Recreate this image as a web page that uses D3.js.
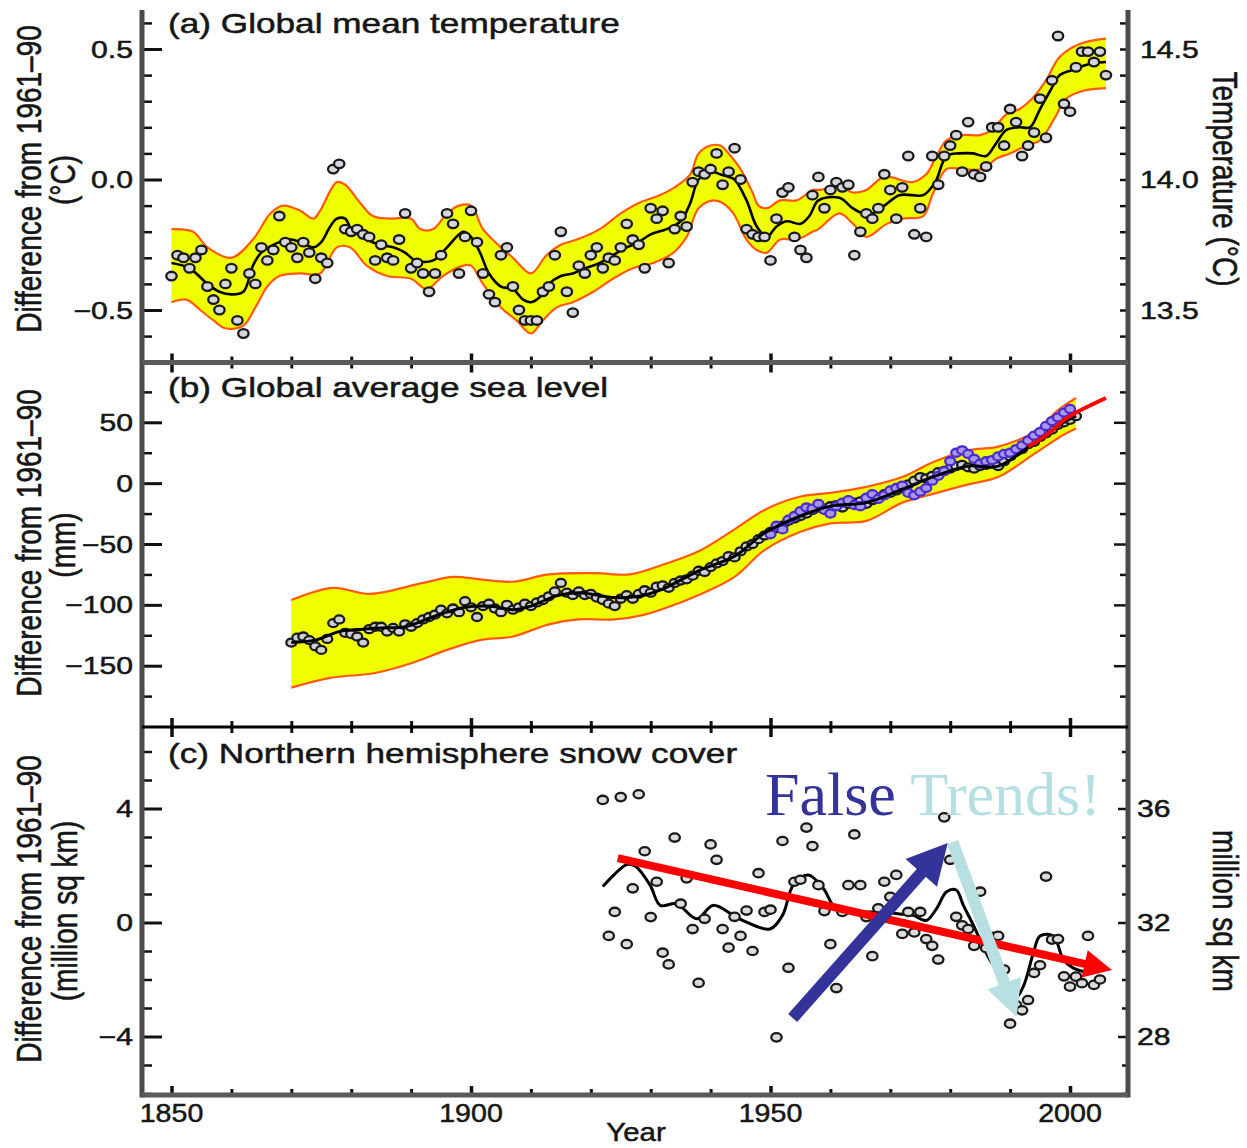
<!DOCTYPE html>
<html>
<head>
<meta charset="utf-8">
<style>
  body { margin: 0; background: #fff; }
  svg { display: block; }
  text { font-family: "Liberation Sans", Arial, sans-serif; fill: #161616; stroke: #161616; stroke-width: 0.5px; }
</style>
</head>
<body>
<div id="chart"></div>
<script src="https://d3js.org/d3.v7.min.js"></script>
<script>
// ---------- (a) global mean temperature, annual anomaly (degC) from 1850 ----------
const tempFirstYear = 1850;
const tempAnom = [
  -0.37, -0.29, -0.30, -0.34, -0.30, -0.27, -0.41, -0.46, -0.50, -0.40,
  -0.34, -0.54, -0.59, -0.36, -0.40, -0.26, -0.31, -0.27, -0.14, -0.24,
  -0.26, -0.30, -0.24, -0.28, -0.38, -0.30, -0.32, 0.04, 0.06, -0.19,
  -0.20, -0.19, -0.21, -0.22, -0.31, -0.25, -0.30, -0.31, -0.23, -0.13,
  -0.34, -0.32, -0.36, -0.43, -0.36, -0.29, -0.13, -0.17, -0.36, -0.22,
  -0.12, -0.24, -0.36, -0.44, -0.47, -0.29, -0.26, -0.41, -0.50, -0.54,
  -0.54, -0.54, -0.43, -0.41, -0.29, -0.20, -0.43, -0.51, -0.33, -0.36,
  -0.29, -0.26, -0.34, -0.30, -0.31, -0.26, -0.17, -0.23, -0.25, -0.34,
  -0.11, -0.15, -0.12, -0.32, -0.19, -0.14, -0.18, -0.01, 0.03, 0.02,
  0.04, 0.10, -0.02, 0.03, 0.12, 0.00, -0.19, -0.21, -0.22, -0.22,
  -0.31, -0.15, -0.05, -0.03, -0.22, -0.27, -0.30, -0.06, 0.01, -0.11,
  -0.04, -0.01, -0.03, -0.02, -0.29, -0.20, -0.13, -0.15, -0.11, 0.02,
  -0.04, -0.15, -0.03, 0.09, -0.21, -0.11, -0.22, 0.09, -0.02, 0.09,
  0.13, 0.17, 0.03, 0.22, 0.02, 0.01, 0.05, 0.20, 0.20, 0.13,
  0.27, 0.22, 0.09, 0.13, 0.18, 0.31, 0.16, 0.38, 0.55, 0.29,
  0.26, 0.43, 0.49, 0.49, 0.45, 0.49, 0.40
];
// smoothed curve [year, value]
const tempSmooth = [
  [1850,-0.32],[1853,-0.34],[1856,-0.40],[1858,-0.43],[1860,-0.44],[1862,-0.43],[1863.6,-0.33],
  [1865,-0.28],[1868,-0.24],[1870,-0.23],[1871.5,-0.24],[1873.7,-0.26],[1875,-0.24],[1876.5,-0.18],
  [1877.6,-0.15],[1879,-0.15],[1880,-0.19],[1882.6,-0.23],[1884.8,-0.25],[1887,-0.26],[1889,-0.28],
  [1890.7,-0.31],[1893.7,-0.31],[1896,-0.26],[1898.7,-0.20],[1900,-0.22],[1901.5,-0.28],[1903,-0.36],
  [1905,-0.41],[1907,-0.42],[1908.7,-0.46],[1910,-0.47],[1911.5,-0.45],[1913,-0.40],[1915,-0.37],
  [1917,-0.36],[1919,-0.34],[1921.5,-0.32],[1923.7,-0.29],[1926,-0.26],[1928,-0.24],[1930,-0.21],
  [1932.7,-0.19],[1935,-0.16],[1936.6,-0.09],[1938,0.0],[1940,0.03],[1941.6,0.02],[1943,0.01],
  [1944,0.0],[1946,-0.08],[1947.7,-0.18],[1949.4,-0.22],[1951,-0.18],[1952.7,-0.16],[1955,-0.17],
  [1956.5,-0.14],[1958,-0.08],[1961.5,-0.07],[1963.7,-0.11],[1965.4,-0.13],[1967,-0.13],[1969,-0.10],
  [1971.5,-0.06],[1973.7,-0.06],[1975.5,-0.06],[1977.5,-0.01],[1979.4,0.09],[1981.6,0.10],[1983.8,0.10],
  [1986,0.09],[1987.7,0.14],[1989.4,0.19],[1991.6,0.20],[1993.3,0.20],[1995,0.27],[1996.7,0.34],
  [1998.3,0.40],[2000.5,0.42],[2002.8,0.44],[2006,0.45]
];
const tempUpper = [
  [1850,-0.19],[1853.6,-0.20],[1856,-0.26],[1860,-0.30],[1863.6,-0.23],[1866.5,-0.13],[1868.6,-0.10],
  [1871.5,-0.12],[1873.7,-0.15],[1874.8,-0.12],[1877.6,-0.01],[1879,-0.02],[1881.5,-0.09],[1883.6,-0.14],
  [1886.5,-0.15],[1890,-0.15],[1891.5,-0.19],[1893.7,-0.19],[1896,-0.13],[1898,-0.10],[1900,-0.10],
  [1902,-0.19],[1905,-0.26],[1907,-0.30],[1910,-0.36],[1912.6,-0.29],[1915,-0.25],[1917.7,-0.23],
  [1921.5,-0.19],[1925,-0.13],[1928,-0.09],[1931.5,-0.06],[1934,-0.03],[1936.6,0.02],[1938,0.10],
  [1940,0.13],[1941.6,0.13],[1943,0.10],[1945,0.04],[1947,-0.05],[1948,-0.10],[1949.4,-0.11],
  [1951.6,-0.08],[1954.4,-0.08],[1957,-0.04],[1958,-0.04],[1961.6,-0.03],[1963.8,-0.05],[1966,-0.04],
  [1969,0.01],[1973.7,-0.01],[1976,0.02],[1977.5,0.08],[1979.4,0.15],[1982,0.17],[1985,0.17],
  [1987,0.19],[1989.4,0.25],[1991.6,0.27],[1993.7,0.31],[1996,0.38],[1998.3,0.47],[2001.7,0.52],[2006,0.54]
];
const tempLower = [
  [1850,-0.47],[1852.5,-0.46],[1854.8,-0.50],[1857,-0.54],[1859,-0.57],[1862,-0.56],[1864,-0.49],
  [1866,-0.41],[1868,-0.37],[1871.5,-0.36],[1874.8,-0.36],[1877.6,-0.26],[1879.8,-0.26],[1882.6,-0.33],
  [1886,-0.37],[1890,-0.38],[1892.6,-0.42],[1895.3,-0.37],[1898.7,-0.33],[1900,-0.33],[1902,-0.40],
  [1905,-0.49],[1907.6,-0.54],[1910,-0.59],[1912,-0.54],[1914.3,-0.49],[1917,-0.47],[1920.4,-0.43],
  [1923.7,-0.38],[1927,-0.34],[1930.4,-0.32],[1933.8,-0.28],[1936,-0.22],[1938,-0.11],[1940.5,-0.08],
  [1942,-0.09],[1943.8,-0.13],[1946,-0.23],[1947.7,-0.27],[1949.4,-0.28],[1951.6,-0.23],[1954.4,-0.23],
  [1957,-0.20],[1958,-0.19],[1961.5,-0.13],[1963.8,-0.17],[1966,-0.22],[1969.4,-0.17],[1972,-0.15],
  [1975.5,-0.14],[1977,-0.06],[1979.4,0.04],[1982,0.04],[1985.5,0.04],[1987.7,0.08],[1990,0.10],
  [1992.8,0.13],[1995,0.15],[1997.3,0.23],[1999.4,0.31],[2002.2,0.34],[2006,0.35]
];
const tempTicks = [-0.5, 0, 0.5];
const tempTickLabels = ["\u22120.5", "0.0", "0.5"];
const tempMinorTicks = [-0.6, -0.4, -0.3, -0.2, -0.1, 0.1, 0.2, 0.3, 0.4, 0.6];
const tempRightTicks = [-0.6, -0.5, -0.4, -0.3, -0.2, -0.1, 0, 0.1, 0.2, 0.3, 0.4, 0.5, 0.6];
const tempRightLabels = ["13.5", "14.0", "14.5"];

// ---------- (b) global average sea level (mm) ----------
const seaFirstYear = 1870;
const seaLevel = [
  -131, -127, -126, -129, -134, -137, -128, -115, -112, -123,
  -124, -126, -131, -120, -118, -118, -122, -119, -122, -116,
  -118, -115, -112, -110, -108, -104, -107, -103, -106, -97,
  -102, -110, -101, -99, -103, -106, -100, -104, -102, -99,
  -101, -98, -96, -93, -89, -82, -90, -92, -89, -92,
  -91, -94, -96, -99, -101, -95, -92, -95, -91, -88,
  -90, -85, -84, -86, -82, -80, -79, -76, -72, -73,
  -69, -66, -64, -60, -61, -56, -52, -50, -46, -43,
  -40, -37, -35, -31, -29, -27, -25, -22, -20, -21,
  -19, -18, -20, -17, -16, -15, -17, -14, -12, -9,
  -8, -6, -4, -1, 2, 5, 4, 6, 9, 10,
  12, 14, 15, 13, 12, 14, 15, 16, 14, 18,
  22, 26, 28, 32, 34, 38, 41, 44, 48, 50,
  52, 55
];
const seaAltFirstYear = 1950;
const seaAlt = [
  -42, -35, -38, -30, -27, -23, -20, -21, -17, -22,
  -25, -19, -16, -14, -18, -19, -12, -9, -13, -10,
  -6, -4, -2, -8, -10, -7, -4, 2, 6, 10,
  18, 25, 27, 24, 20, 16, 18, 19, 22, 24,
  25, 28, 31, 35, 39, 42, 47, 51, 54, 58, 61
];
const seaSmooth = [
  [1870,-131],[1874,-129],[1878,-122],[1882,-120],[1885,-119],[1889,-118],[1893,-111],[1896,-106],
  [1899,-102],[1903,-101],[1907,-104],[1910,-101],[1914,-93],[1918,-90],[1924,-94],[1928,-93],
  [1932,-87],[1938,-72],[1944,-60],[1949,-41],[1955,-27],[1960,-19],[1966,-16],[1972,-5],
  [1977,5],[1983,14],[1988,14],[1994,33],[1999,50],[2001,55]
];
const seaUpper = [
  [1870,-96],[1877,-86],[1883,-91],[1892,-82],[1897,-77],[1901.5,-79],[1907,-81],[1913,-75],
  [1921,-74],[1926.5,-75],[1932,-67],[1938,-56],[1944,-38],[1949,-22],[1955,-11],[1960,-8],
  [1966,-3],[1972,5],[1977,17],[1983,27],[1988,30],[1994,42],[1998,60],[2001,70]
];
const seaLower = [
  [1870,-168],[1876.5,-160],[1884,-156],[1890,-148],[1896,-137],[1901.5,-129],[1907,-126],[1913,-116],
  [1918,-112],[1924,-112],[1929,-108],[1935,-98],[1938,-92],[1944,-77],[1949,-55],[1955,-40],
  [1960,-33],[1966,-31],[1972,-16],[1977,-9],[1983,-1],[1988,5],[1994,24],[1999,40],[2001,45]
];
const seaSatellite = [[1993,30],[1995,36],[1997,43],[1999,52],[2001,58],[2003,63],[2006,70]];
const seaTicks = [-150, -100, -50, 0, 50];
const seaTickLabels = ["\u2212150", "\u2212100", "\u221250", "0", "50"];
const seaMinorTicks = [-175, -125, -75, -25, 25, 75];

// ---------- (c) northern hemisphere snow cover (million sq km) ----------
const snowFirstYear = 1922;
const snowAnom = [
  4.3, -0.47, 0.37, 4.4, -0.76, 1.2, 4.5, 2.5, 0.19, 1.43,
  -1.06, -1.47, 2.98, 0.66, 1.55, -0.23, -2.12, 0.13, 2.74, 2.2,
  -0.23, -0.88, 0.2, -0.47, 0.42, -1.0, 1.73, 0.37, 0.45, -4.03,
  2.86, -1.59, 1.43, 1.5, 3.33, 2.68, 1.31, 0.4, -0.76, -2.3,
  0.37, 1.31, 3.09, 1.31, 0.19, -1.18, 0.5, 1.43, 0.9, 1.67,
  -0.4, 0.37, -0.35, 0.37, -0.58, -0.82, -1.3, 3.69, 2.2, 0.2,
  -0.1, -0.23, -0.82, 1.08, -0.9, -0.5, -0.47, -1.65, -3.55, -2.9,
  -3.08, -2.72, -1.77, -1.5, 1.61, -0.6, -0.58, -1.89, -2.25, -1.9,
  -2.13, -0.47, -2.19, -2.0
];
const snowSmooth = [
  [1922,1.26],[1924,1.7],[1926,2.03],[1927.4,1.98],[1929.9,1.31],[1931.6,0.6],[1934.3,0.66],
  [1937.7,0.13],[1940.4,0.6],[1943.8,0.25],[1946,0.01],[1949.9,-0.23],[1952,0.25],[1953.8,1.31],
  [1956.3,1.67],[1958.8,1.2],[1961,0.48],[1965,0.37],[1968.3,0.37],[1971.6,0.3],[1973.8,0.25],
  [1976,0.07],[1977.7,0.48],[1979.4,1.08],[1981,1.14],[1982.2,0.6],[1983.9,-0.11],[1986.6,-1.3],
  [1989.4,-2.13],[1991.1,-2.6],[1992.2,-2.25],[1993.9,-1.06],[1995,-0.47],[1997.2,-0.47],
  [1998.9,-1.3],[2000.5,-1.59],[2003.3,-1.77]
];
const snowTicks = [-4, 0, 4];
const snowTickLabels = ["\u22124", "0", "4"];
const snowMinorTicks = [-6, -5, -3, -2, -1, 1, 2, 3, 5, 6];
const snowRightLabels = ["28", "32", "36"];

// "False Trends!" annotation lines [from, to] in [year, value]
const trendLines = [
  [[1924.5, 2.26], [2007.0, -1.67]],
  [[1953.7, -3.35], [1979.6, 2.79]],
  [[1980.4, 2.82], [1991.1, -3.32]]
];

// shared x axis
const decadeTicks = [1850,1860,1870,1880,1890,1900,1910,1920,1930,1940,1950,1960,1970,1980,1990,2000];
const yearTicks = [1850, 1900, 1950, 2000];

// ---------- layout ----------
const W = 1247, H = 1148;
const xLeft = 142, xRight = 1128;
const SX = 1.257; // the original is stretched horizontally

const svg = d3.select("#chart").append("svg").attr("width", W).attr("height", H);

const x = d3.scaleLinear().domain([1850, 2000]).range([171.5, 1070]);
const yA = d3.scaleLinear().domain([-0.5, 0.5]).range([310, 49]);
const yB = d3.scaleLinear().domain([-150, 50]).range([665.7, 422.3]);
const yC = d3.scaleLinear().domain([-4, 4]).range([1036.5, 808.5]);

function label(px, py, str, size, anchor, rot, sx) {
  return svg.append("text")
    .attr("transform", `translate(${px},${py}) scale(${sx || SX},1)` + (rot ? ` rotate(${rot})` : ""))
    .attr("font-size", size)
    .attr("text-anchor", anchor || "start")
    .text(str);
}

function bandPath(upper, lower, ys) {
  const line = d3.line().x(d => x(d[0])).y(d => ys(d[1])).curve(d3.curveCatmullRom);
  return line(upper) + "L" + line(lower.slice().reverse()).slice(1) + "Z";
}

function drawBand(upper, lower, ys) {
  const line = d3.line().x(d => x(d[0])).y(d => ys(d[1])).curve(d3.curveCatmullRom);
  svg.append("path").attr("d", bandPath(upper, lower, ys)).attr("fill", "#f0ff00");
  [upper, lower].forEach(edge => {
    svg.append("path").attr("d", line(edge))
      .attr("fill", "none").attr("stroke", "#ff5a10").attr("stroke-width", 2.2);
  });
}

function drawCurve(pts, ys, color, width) {
  const line = d3.line().x(d => x(d[0])).y(d => ys(d[1])).curve(d3.curveCatmullRom);
  svg.append("path").attr("d", line(pts))
    .attr("fill", "none").attr("stroke", color).attr("stroke-width", width)
    .attr("stroke-linejoin", "round");
}

function drawDots(values, first, ys, stroke, fill, rx, ry) {
  svg.append("g").selectAll("ellipse")
    .data(values)
    .enter().append("ellipse")
    .attr("cx", (d, i) => x(first + i))
    .attr("cy", d => ys(d))
    .attr("rx", rx).attr("ry", ry)
    .attr("fill", fill)
    .attr("stroke", stroke)
    .attr("stroke-width", 2.3);
}

// ---------- panel (a) ----------
drawBand(tempUpper, tempLower, yA);
drawCurve(tempSmooth, yA, "#000", 2.6);
drawDots(tempAnom, tempFirstYear, yA, "#1a1a1a", "#d6d6de", 5.2, 4.3);

// ---------- panel (b) ----------
drawBand(seaUpper, seaLower, yB);
drawDots(seaLevel, seaFirstYear, yB, "#1a1a1a", "#cfcfd6", 5, 4);
drawDots(seaAlt, seaAltFirstYear, yB, "#4a2cd0", "#a898ec", 5, 4);
drawCurve(seaSmooth, yB, "#000", 3);
drawCurve(seaSatellite, yB, "#ff0000", 4);

// ---------- panel (c) ----------
drawCurve(snowSmooth, yC, "#000", 3);
drawDots(snowAnom, snowFirstYear, yC, "#1a1a1a", "#dcdcdc", 5.2, 4.2);

// ---------- axes ----------
function tickMarks(axisFn, scale, values, size, width, tx, ty) {
  const a = svg.append("g")
    .attr("transform", `translate(${tx},${ty})`)
    .call(axisFn(scale).tickValues(values).tickSize(size).tickFormat(""));
  a.select(".domain").remove();
  a.selectAll(".tick line").attr("stroke", "#111").attr("stroke-width", width);
}

// left and right value ticks
tickMarks(d3.axisRight, yA, tempTicks, 20, 3, xLeft, 0);
tickMarks(d3.axisRight, yA, tempMinorTicks, 10, 2.5, xLeft, 0);
tickMarks(d3.axisLeft, yA, tempRightTicks, 8, 2.5, xRight, 0);

tickMarks(d3.axisRight, yB, seaTicks, 20, 3, xLeft, 0);
tickMarks(d3.axisRight, yB, seaMinorTicks, 10, 2.5, xLeft, 0);
tickMarks(d3.axisLeft, yB, seaTicks, 14, 2.5, xRight, 0);
tickMarks(d3.axisLeft, yB, seaMinorTicks, 8, 2.5, xRight, 0);

tickMarks(d3.axisRight, yC, snowTicks, 20, 3, xLeft, 0);
tickMarks(d3.axisRight, yC, snowMinorTicks, 10, 2.5, xLeft, 0);
tickMarks(d3.axisLeft, yC, snowTicks, 10, 2.5, xRight, 0);
tickMarks(d3.axisLeft, yC, snowMinorTicks, 6, 2.5, xRight, 0);

// year ticks on panel boundaries
const minorDecades = decadeTicks.filter(d => !yearTicks.includes(d));
[[362.5, true], [727, true], [1095, false]].forEach(([yy, both]) => {
  tickMarks(d3.axisTop, x, minorDecades, 6, 3, 0, yy);
  tickMarks(d3.axisTop, x, yearTicks, 9, 3.5, 0, yy);
  if (both) {
    tickMarks(d3.axisBottom, x, minorDecades, 6, 3, 0, yy);
    tickMarks(d3.axisBottom, x, yearTicks, 10, 3.5, 0, yy);
  }
});

// frame lines
svg.append("line").attr("x1", xLeft).attr("x2", xLeft).attr("y1", 10).attr("y2", 1097.5)
  .attr("stroke", "#4a4a4a").attr("stroke-width", 5);
svg.append("line").attr("x1", xRight).attr("x2", xRight).attr("y1", 10).attr("y2", 1097.5)
  .attr("stroke", "#4a4a4a").attr("stroke-width", 5);
svg.append("line").attr("x1", xLeft).attr("x2", xRight).attr("y1", 362.5).attr("y2", 362.5)
  .attr("stroke", "#5a5a5a").attr("stroke-width", 5);
svg.append("line").attr("x1", xLeft).attr("x2", xRight).attr("y1", 727).attr("y2", 727)
  .attr("stroke", "#000").attr("stroke-width", 3);
svg.append("line").attr("x1", xLeft).attr("x2", xRight).attr("y1", 1095).attr("y2", 1095)
  .attr("stroke", "#5a5a5a").attr("stroke-width", 5);

// tick labels
tempTicks.forEach((v, i) => {
  label(133, yA(v) + 8.5, tempTickLabels[i], 24, "end");
  label(1140, yA(v) + 8.5, tempRightLabels[i], 24, "start");
});
seaTicks.forEach((v, i) => label(133, yB(v) + 8.5, seaTickLabels[i], 24, "end"));
snowTicks.forEach((v, i) => {
  label(133, yC(v) + 8.5, snowTickLabels[i], 24, "end");
  label(1137, yC(v) + 8.5, snowRightLabels[i], 24, "start");
});
yearTicks.forEach(v => label(x(v), 1122, String(v), 26, "middle", 0, 1.1));
label(636, 1141, "Year", 26, "middle", 0, 1.13);

// axis titles
label(41, 179, "Difference from 1961\u201390", 28, "middle", -90);
label(75, 180, "(\u00b0C)", 28, "middle", -90);
label(41, 543, "Difference from 1961\u201390", 28, "middle", -90);
label(75, 545, "(mm)", 28, "middle", -90);
label(41, 909, "Difference from 1961\u201390", 28, "middle", -90);
label(77, 911, "(million sq km)", 28, "middle", -90);
label(1213, 179, "Temperature (\u00b0C)", 28, "middle", 90);
label(1213, 911, "million sq km", 28, "middle", 90);

// panel titles
label(168, 33, "(a) Global mean temperature", 28);
label(168, 397, "(b) Global average sea level", 28);
label(168, 763, "(c) Northern hemisphere snow cover", 28);

// ---------- "False Trends!" annotation ----------
const ft = svg.append("text").attr("x", 765).attr("y", 815)
  .style("font-family", "'Liberation Serif', 'Times New Roman', serif")
  .style("stroke", "none")
  .attr("font-size", 62);
ft.append("tspan").style("fill", "#333399").text("False ");
ft.append("tspan").style("fill", "#b5dfe3").text("Trends!");

const arrowStyles = [
  { color: "#ff0000", shaft: 8, head: 28, half: 14 },
  { color: "#333399", shaft: 12, head: 40, half: 21 },
  { color: "#b8e0e3", shaft: 12, head: 36, half: 18 }
];
trendLines.forEach((seg, i) => {
  const s = arrowStyles[i];
  const x0 = x(seg[0][0]), y0 = yC(seg[0][1]);
  const x1 = x(seg[1][0]), y1 = yC(seg[1][1]);
  const len = Math.hypot(x1 - x0, y1 - y0);
  const ux = (x1 - x0) / len, uy = (y1 - y0) / len;
  const bx = x1 - ux * s.head, by = y1 - uy * s.head;
  svg.append("line")
    .attr("x1", x0).attr("y1", y0).attr("x2", bx + ux * 2).attr("y2", by + uy * 2)
    .attr("stroke", s.color).attr("stroke-width", s.shaft);
  svg.append("polygon")
    .attr("points", [[x1, y1], [bx - uy * s.half, by + ux * s.half], [bx + uy * s.half, by - ux * s.half]]
      .map(p => p.join(",")).join(" "))
    .attr("fill", s.color);
});
</script>
</body>
</html>
